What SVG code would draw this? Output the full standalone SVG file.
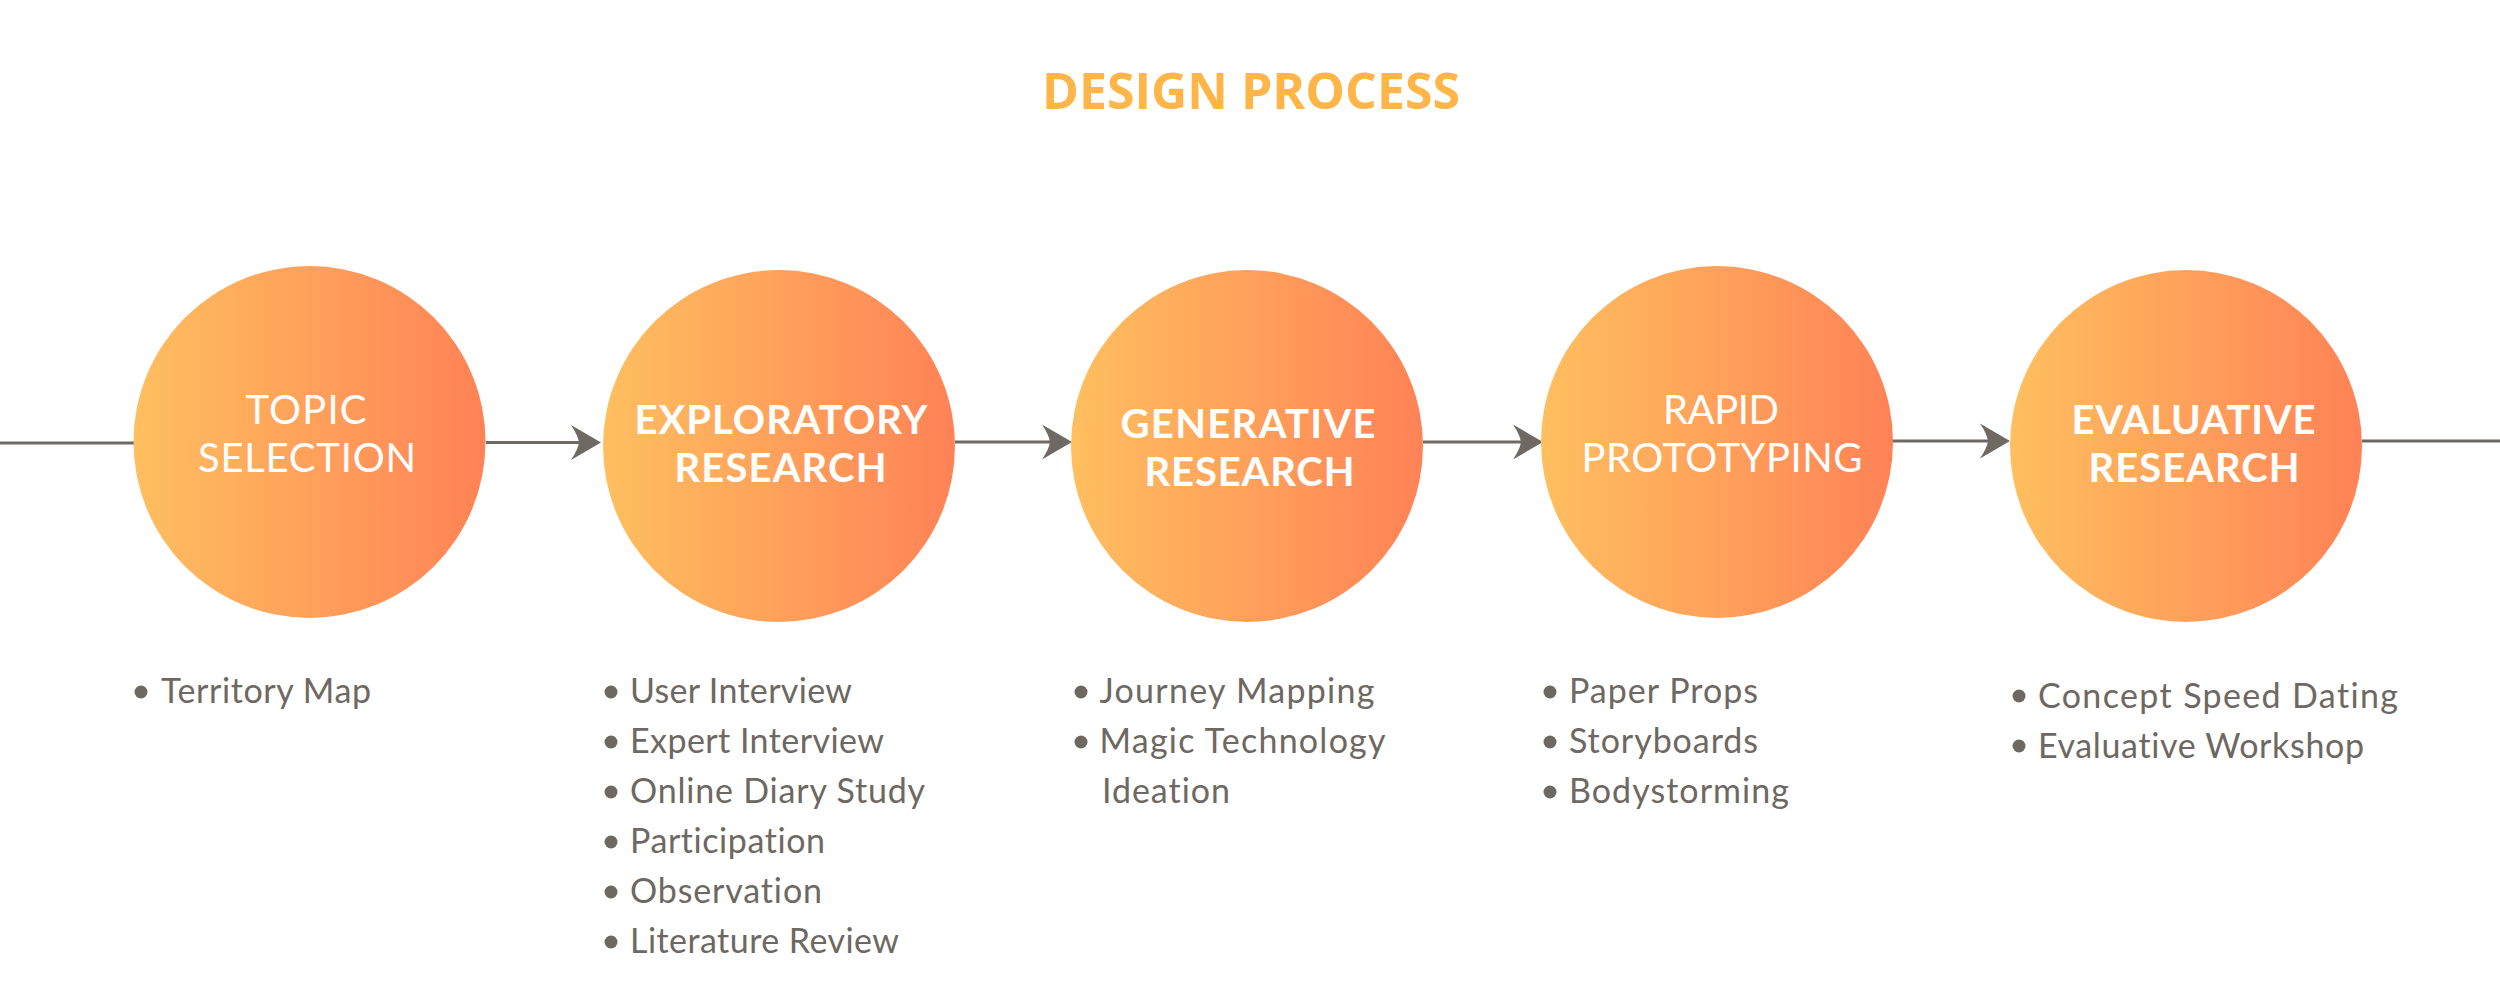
<svg xmlns="http://www.w3.org/2000/svg" width="2500" height="1000" viewBox="0 0 2500 1000">
  <defs>
    <linearGradient id="orange" x1="0" y1="0" x2="1" y2="0">
      <stop offset="0" stop-color="#FFBF5F"/>
      <stop offset="1" stop-color="#FF8256"/>
    </linearGradient>
    <marker id="arrow" markerUnits="userSpaceOnUse" viewBox="-32 -20 34 40" refX="-20" refY="0" markerWidth="34" markerHeight="40" orient="auto">
      <path d="M0,0 L-30,-17.5 Q-23,-7 -22,0 Q-23,7 -30,17.5 Z" fill="#6F6964"/>
    </marker>
  </defs>
  <style>
    text { font-variant-ligatures: none; font-feature-settings: "liga" 0, "clig" 0, "dlig" 0; }
    .title { font-family: "Open Sans", "Liberation Sans", sans-serif; font-weight: 700; font-size: 50px; fill: #FFB547; }
    .node circle { fill: url(#orange); }
    .lab { font-family: Lato, "Open Sans", sans-serif; font-size: 40px; fill: #FFFFFF; text-anchor: middle; }
    .reg { font-weight: 400; }
    .bold { font-weight: 700; }
    .item { font-family: Lato, "Open Sans", sans-serif; font-size: 34px; fill: #6E6862; }
    .dot { fill: #6E6862; }
    .conn line { stroke: #6F6964; stroke-width: 3.2; fill: none; }
  </style>
  <rect width="2500" height="1000" fill="#FFFFFF"/>

  <text class="title" x="1251" y="109" text-anchor="middle">DESIGN PROCESS</text>

  <g id="connectors" class="conn">
    <line x1="0" y1="443" x2="134" y2="443"/>
    <line x1="486" y1="442.5" x2="581" y2="442.5" marker-end="url(#arrow)"/>
    <line x1="955" y1="442" x2="1052" y2="442" marker-end="url(#arrow)"/>
    <line x1="1423" y1="442" x2="1523" y2="442" marker-end="url(#arrow)"/>
    <line x1="1892" y1="441" x2="1990" y2="441" marker-end="url(#arrow)"/>
    <line x1="2362" y1="441" x2="2500" y2="441"/>
  </g>

  <g id="node-topic" class="node">
    <circle cx="309.5" cy="442" r="176"/>
    <text class="lab reg" x="306" y="424" textLength="121" lengthAdjust="spacing">TOPIC</text>
    <text class="lab reg" x="307" y="472" textLength="218" lengthAdjust="spacing">SELECTION</text>
  </g>
  <g id="node-exploratory" class="node">
    <circle cx="779" cy="446" r="176"/>
    <text class="lab bold" x="781" y="434" textLength="293" lengthAdjust="spacing">EXPLORATORY</text>
    <text class="lab bold" x="780.5" y="482" textLength="212" lengthAdjust="spacing">RESEARCH</text>
  </g>
  <g id="node-generative" class="node">
    <circle cx="1247" cy="446" r="176"/>
    <text class="lab bold" x="1248" y="438" textLength="255" lengthAdjust="spacing">GENERATIVE</text>
    <text class="lab bold" x="1249.5" y="486" textLength="210" lengthAdjust="spacing">RESEARCH</text>
  </g>
  <g id="node-rapid" class="node">
    <circle cx="1717" cy="442" r="176"/>
    <text class="lab reg" x="1721" y="424" textLength="116" lengthAdjust="spacing">RAPID</text>
    <text class="lab reg" x="1722" y="472" textLength="281" lengthAdjust="spacing">PROTOTYPING</text>
  </g>
  <g id="node-evaluative" class="node">
    <circle cx="2186" cy="446" r="176"/>
    <text class="lab bold" x="2193.5" y="434" textLength="244" lengthAdjust="spacing">EVALUATIVE</text>
    <text class="lab bold" x="2194" y="482" textLength="211" lengthAdjust="spacing">RESEARCH</text>
  </g>

  <g id="list-topic">
    <circle class="dot" cx="141" cy="692" r="6.5"/>
    <text class="item" x="161" y="703" textLength="210" lengthAdjust="spacing">Territory Map</text>
  </g>
  <g id="list-exploratory">
    <circle class="dot" cx="611" cy="692" r="6.5"/>
    <text class="item" x="630" y="703" textLength="222" lengthAdjust="spacing">User Interview</text>
    <circle class="dot" cx="611" cy="742" r="6.5"/>
    <text class="item" x="630" y="753" textLength="254" lengthAdjust="spacing">Expert Interview</text>
    <circle class="dot" cx="611" cy="792" r="6.5"/>
    <text class="item" x="630" y="803" textLength="295" lengthAdjust="spacing">Online Diary Study</text>
    <circle class="dot" cx="611" cy="842" r="6.5"/>
    <text class="item" x="630" y="853" textLength="195" lengthAdjust="spacing">Participation</text>
    <circle class="dot" cx="611" cy="892" r="6.5"/>
    <text class="item" x="630" y="903" textLength="192" lengthAdjust="spacing">Observation</text>
    <circle class="dot" cx="611" cy="942" r="6.5"/>
    <text class="item" x="630" y="953" textLength="269" lengthAdjust="spacing">Literature Review</text>
  </g>
  <g id="list-generative">
    <circle class="dot" cx="1081" cy="692" r="6.5"/>
    <text class="item" x="1099.5" y="703" textLength="275" lengthAdjust="spacing">Journey Mapping</text>
    <circle class="dot" cx="1081" cy="742" r="6.5"/>
    <text class="item" x="1099.5" y="753" textLength="286" lengthAdjust="spacing">Magic Technology</text>
    <text class="item" x="1102" y="803" textLength="128" lengthAdjust="spacing">Ideation</text>
  </g>
  <g id="list-rapid">
    <circle class="dot" cx="1550" cy="692" r="6.5"/>
    <text class="item" x="1569" y="703" textLength="189" lengthAdjust="spacing">Paper Props</text>
    <circle class="dot" cx="1550" cy="742" r="6.5"/>
    <text class="item" x="1569" y="753" textLength="189" lengthAdjust="spacing">Storyboards</text>
    <circle class="dot" cx="1550" cy="792" r="6.5"/>
    <text class="item" x="1569" y="803" textLength="220" lengthAdjust="spacing">Bodystorming</text>
  </g>
  <g id="list-evaluative">
    <circle class="dot" cx="2019" cy="696" r="6.5"/>
    <text class="item" x="2038" y="708" textLength="360" lengthAdjust="spacing">Concept Speed Dating</text>
    <circle class="dot" cx="2019" cy="746" r="6.5"/>
    <text class="item" x="2038" y="757.5" textLength="326" lengthAdjust="spacing">Evaluative Workshop</text>
  </g>
</svg>
